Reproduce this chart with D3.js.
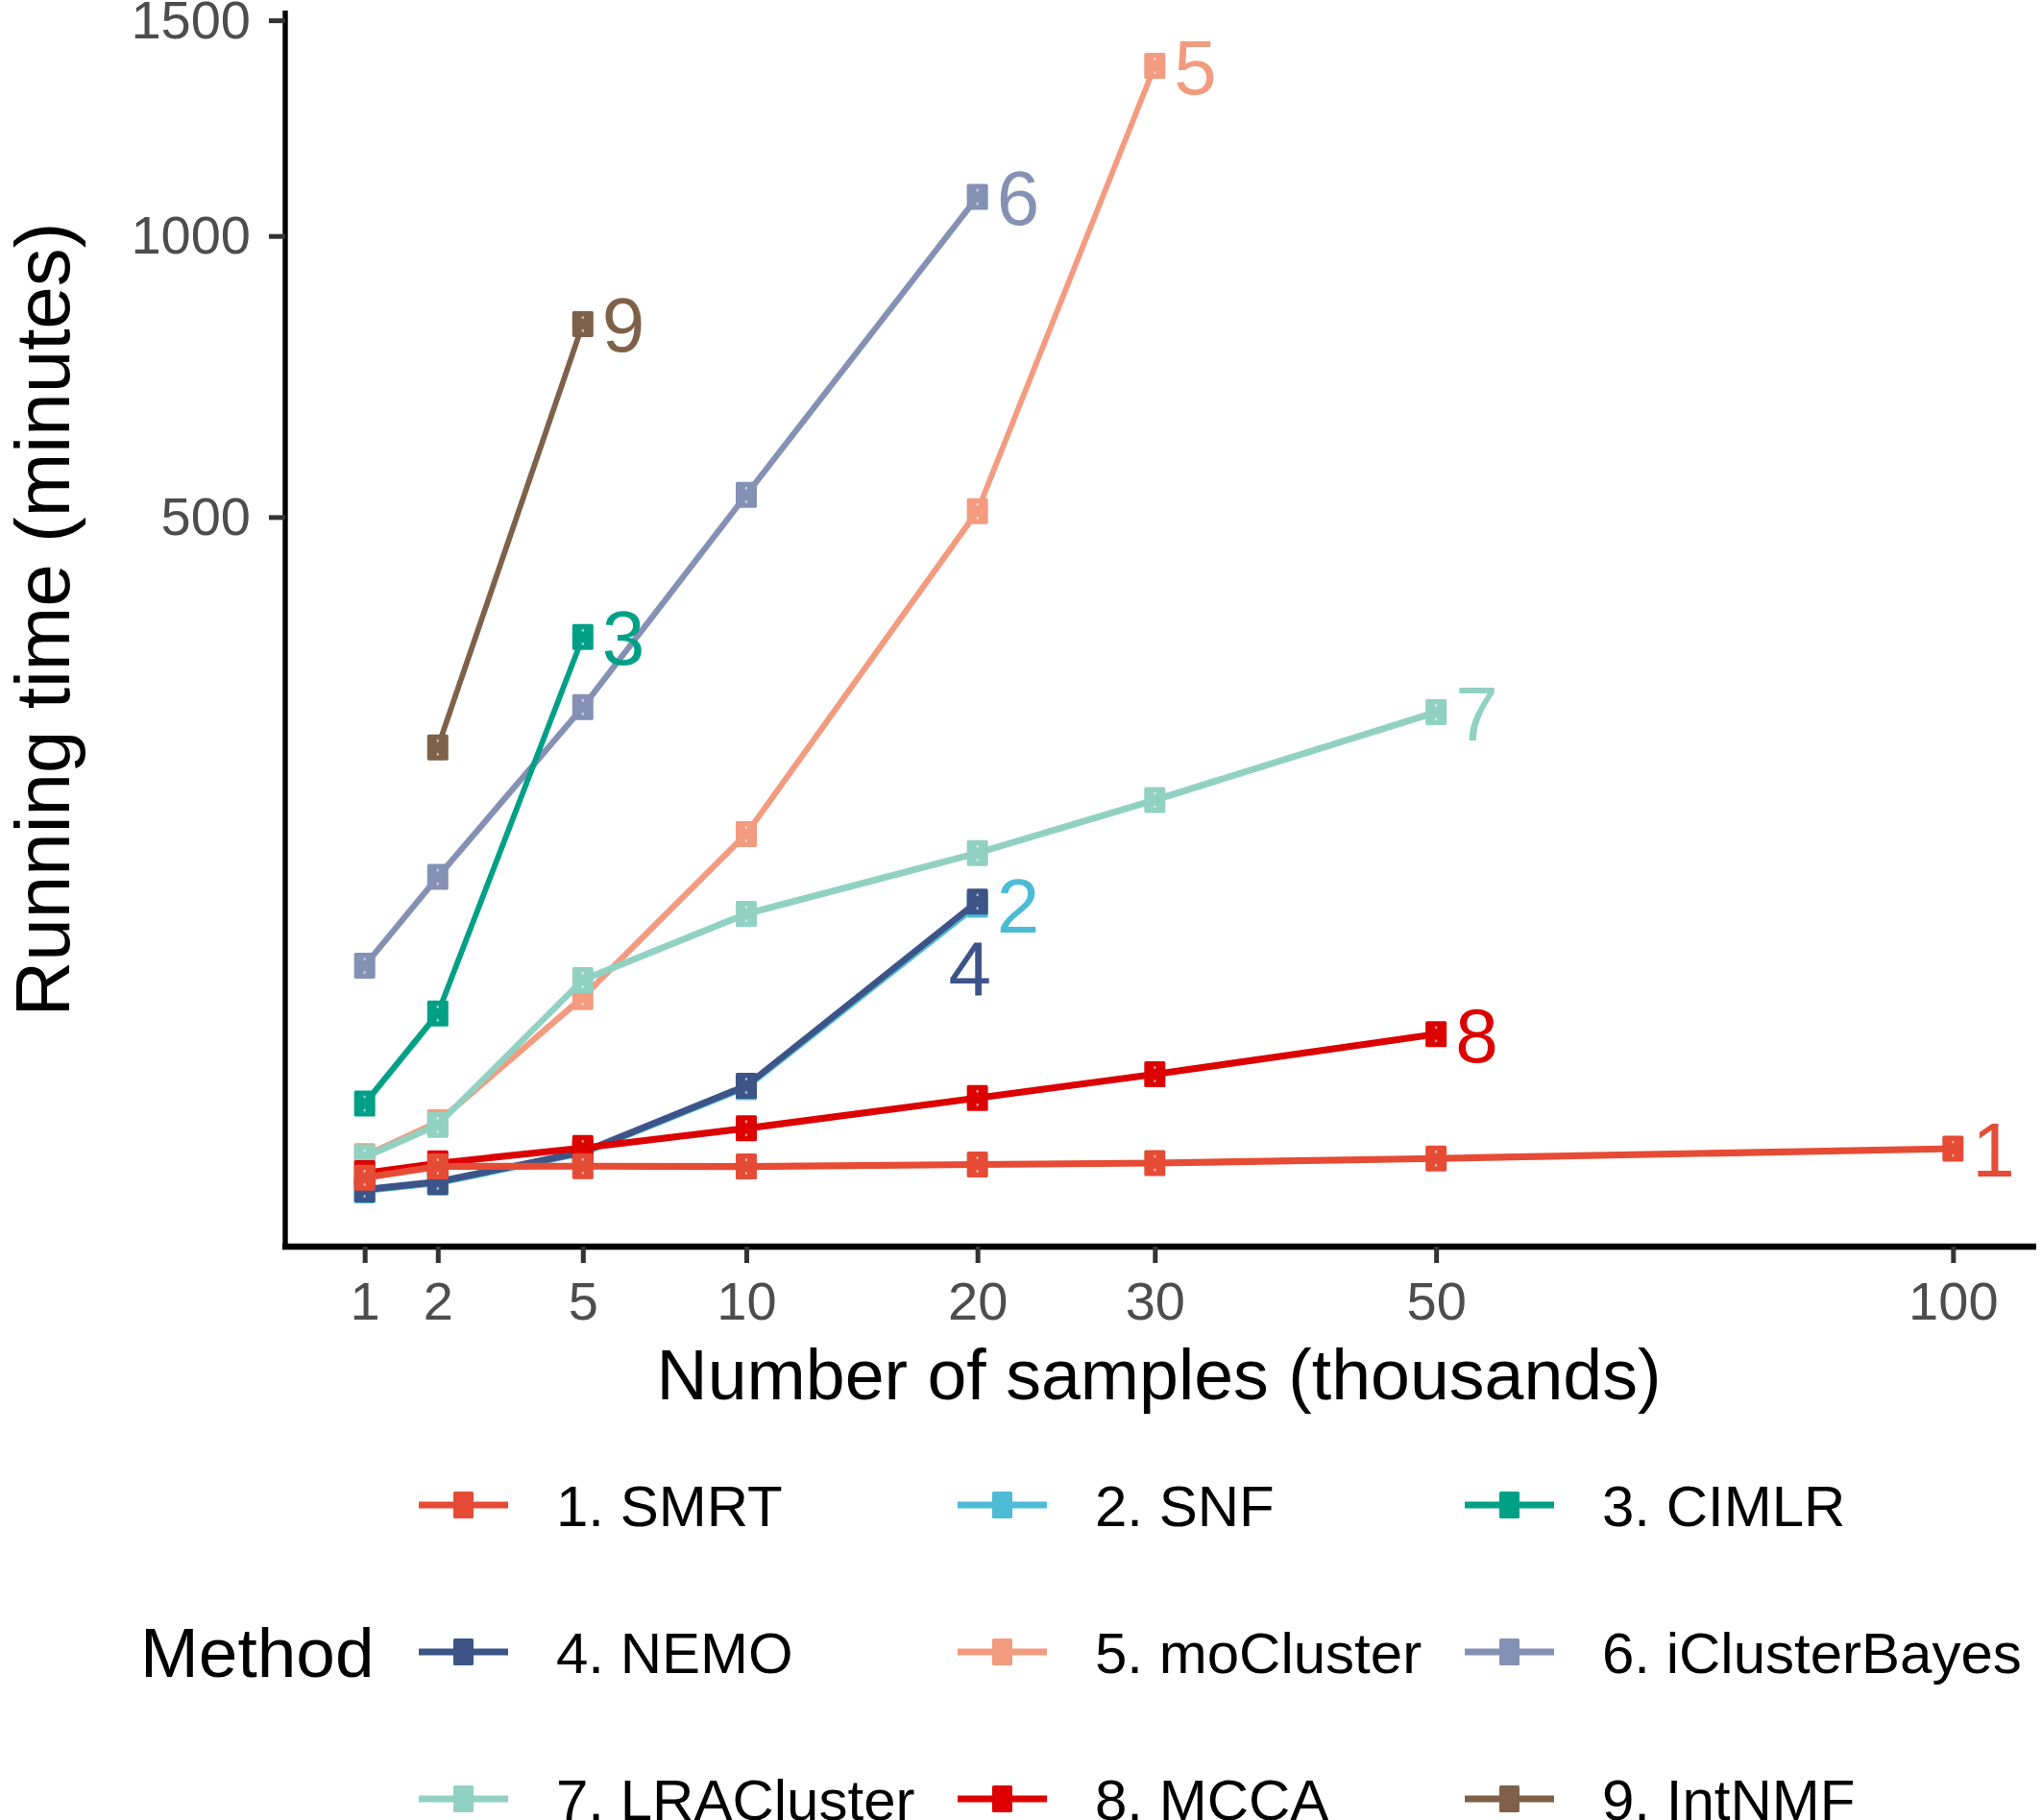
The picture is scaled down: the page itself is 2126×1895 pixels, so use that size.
<!DOCTYPE html>
<html>
<head>
<meta charset="utf-8">
<script src="https://cdn.jsdelivr.net/npm/d3@7"></script>
<style>
  body { margin: 0; background: #fff; }
  svg { display: block; font-family: "Liberation Sans", Arial, Helvetica, sans-serif; }
</style>
</head>
<body>
<svg id="chart" width="2126" height="1895"></svg>
<script>
// sample sizes (thousands) and running times (minutes)
var sizes = [1, 2, 5, 10, 20, 30, 50, 100];

var methods = ["1. SMRT", "2. SNF", "3. CIMLR", "4. NEMO", "5. moCluster",
  "6. iClusterBayes", "7. LRACluster", "8. MCCA", "9. IntNMF"];
var endLabels = ["1", "2", "3", "4", "5", "6", "7", "8", "9"];
var colors = ["#E64B35", "#4DBBD5", "#00A087", "#3C5488", "#F39B7F",
  "#8491B4", "#91D1C2", "#DC0000", "#7E6148"];

var smrt = [0.35, 0.93, 0.94, 0.92, 1.05, 1.15, 1.5, 2.4];
var snf = [0.03, 0.18, 2.0, 12.8, 91.9, null, null, null];
var cimlr = [9.2, 36.0, 338.8, null, null, null, null, null];
var nemo = [0.04, 0.21, 2.06, 13.1, 93.9, null, null, null];
var mocluster = [1.7, 5.85, 42.8, 142.0, 508.7, 1386, null, null];
var iclusterbayes = [57.4, 110.3, 259.1, 533.2, 1083, null, null, null];
var lracluster = [1.6, 5.45, 50.5, 86.2, 127.5, 169.9, 253.8, null];
var mcca = [0.55, 1.14, 2.47, 4.92, 10.34, 16.0, 28.3, null];
var intnmf = [null, 218.2, 824.9, null, null, null, null, null];

var runtimes = [smrt, snf, cimlr, nemo, mocluster, iclusterbayes, lracluster, mcca, intnmf];
var yTicks = [500, 1000, 1500];

var svg = d3.select("#chart");

// panel box
var panelL = 297, panelR = 2116, panelT = 10, panelB = 1298;
// the original figure is stretched vertically, marks get the same stretch
var stretch = 1.27;

// ggplot-like 5% expansion in sqrt space
function sqrtExpand(vals) {
  var s = vals.map(Math.sqrt);
  var lo = d3.min(s), hi = d3.max(s), pad = (hi - lo) * 0.05;
  var a = lo - pad, b = hi + pad;
  return [a < 0 ? -a * a : a * a, b * b];
}
var allTimes = [].concat.apply([], runtimes).filter(function (v) { return v != null; });

var x = d3.scaleSqrt().domain(sqrtExpand(sizes)).range([panelL, panelR]);
var y = d3.scaleSqrt().domain(sqrtExpand(allTimes)).range([panelB, panelT]);
var yS = d3.scaleSqrt().domain(y.domain()).range([panelB / stretch, panelT / stretch]);

var series = runtimes.map(function (vals, i) {
  return {
    i: i,
    pts: vals.map(function (v, j) { return { n: sizes[j], v: v }; })
      .filter(function (d) { return d.v != null; })
  };
});

// axes
var xAxis = svg.append("g")
  .attr("transform", "translate(0," + panelB + ")")
  .call(d3.axisBottom(x).tickValues(sizes).tickFormat(d3.format("d"))
    .tickSize(17).tickSizeOuter(0).tickPadding(19));
var yAxis = svg.append("g")
  .attr("transform", "translate(" + panelL + ",0)")
  .call(d3.axisLeft(y).tickValues(yTicks).tickFormat(d3.format("d"))
    .tickSize(17).tickSizeOuter(0).tickPadding(19));

xAxis.select(".domain").attr("stroke", "#000").attr("stroke-width", 6.7)
  .attr("d", "M" + (panelL - 3) + ",0H" + (panelR + 4));
yAxis.select(".domain").attr("stroke", "#000").attr("stroke-width", 5.4)
  .attr("d", "M0," + (panelT + 1) + "V" + (panelB + 3));
[xAxis, yAxis].forEach(function (ax) {
  ax.selectAll(".tick line").attr("stroke", "#333").attr("stroke-width", 5);
  ax.selectAll(".tick text").attr("fill", "#4D4D4D").style("font-size", "56px")
    .style("font-family", "'Liberation Sans', Arial, sans-serif");
});

svg.append("text")
  .attr("x", (panelL + panelR) / 2).attr("y", 1457)
  .attr("text-anchor", "middle")
  .style("font-size", "73.5px")
  .text("Number of samples (thousands)");

svg.append("text")
  .attr("transform", "translate(72,645) rotate(-90)")
  .attr("text-anchor", "middle")
  .style("font-size", "80px")
  .text("Running time (minutes)");

// lines and markers, drawn in an order matching the overlaps in the figure
var drawOrder = [8, 5, 2, 4, 6, 1, 3, 7, 0];
var marks = svg.append("g").attr("transform", "scale(1," + stretch + ")");

var line = d3.line()
  .x(function (d) { return x(d.n); })
  .y(function (d) { return yS(d.v); });

var mw = 22, mh = 27 / stretch;

drawOrder.forEach(function (i) {
  var s = series[i];
  var g = marks.append("g");
  g.append("path")
    .attr("d", line(s.pts))
    .attr("fill", "none")
    .attr("stroke", colors[i])
    .attr("stroke-width", 5.6)
    .attr("stroke-linejoin", "round");
  var p = g.selectAll("g.pt").data(s.pts).enter().append("g")
    .attr("transform", function (d) { return "translate(" + x(d.n) + "," + yS(d.v) + ")"; });
  p.append("rect")
    .attr("x", -mw / 2).attr("y", -mh / 2)
    .attr("width", mw).attr("height", mh)
    .attr("rx", 1.5)
    .attr("fill", colors[i]);
  p.selectAll("circle").data([-5.5, 5.5]).enter().append("circle")
    .attr("cx", 0).attr("cy", function (d) { return d; })
    .attr("r", 1.2).attr("fill", "#fff").attr("opacity", 0.6);
});

// end-of-line labels
var labelG = svg.append("g");
series.forEach(function (s) {
  var last = s.pts[s.pts.length - 1];
  var px = x(last.n), py = y(last.v);
  var t = labelG.append("text")
    .attr("fill", colors[s.i])
    .style("font-size", "80px")
    .text(endLabels[s.i]);
  if (s.i === 3) {
    // NEMO label sits under its point
    t.attr("x", px - 8).attr("y", py + 97).attr("text-anchor", "middle");
  } else {
    t.attr("x", px + 20).attr("y", py + 29);
  }
});

// legend
var legend = svg.append("g");
var colKey = [436, 997, 1525];
var rowY = [1567, 1720, 1873];

legend.append("text")
  .attr("x", 146).attr("y", rowY[1] + 26)
  .style("font-size", "73px")
  .text("Method");

methods.forEach(function (m, i) {
  var cx = colKey[i % 3], cy = rowY[Math.floor(i / 3)];
  var k = legend.append("g").attr("transform", "translate(" + cx + "," + cy + ")");
  k.append("line")
    .attr("x1", 0).attr("x2", 93).attr("y1", 0).attr("y2", 0)
    .attr("stroke", colors[i]).attr("stroke-width", 7);
  k.append("rect")
    .attr("x", 46.5 - 10.5).attr("y", -14)
    .attr("width", 21).attr("height", 28).attr("rx", 1.5)
    .attr("fill", colors[i]);
  k.append("text")
    .attr("x", 143).attr("y", 21.5)
    .style("font-size", "60px")
    .text(m);
});
</script>
</body>
</html>
